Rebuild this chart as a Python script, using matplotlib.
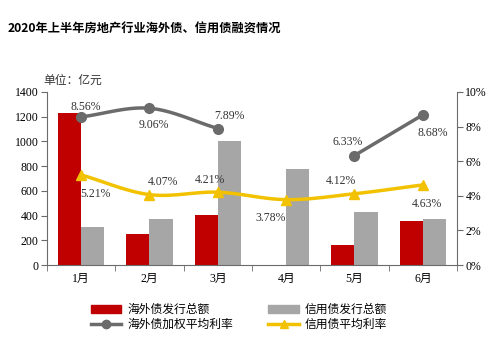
import numpy as np
import matplotlib.pyplot as plt
from matplotlib.lines import Line2D
from matplotlib.patches import Patch

plt.rcParams['font.family'] = ['Liberation Serif', 'Noto Sans CJK SC', 'DejaVu Sans']

months = ["1月", "2月", "3月", "4月", "5月", "6月"]
overseas_amt = [1230, 255, 405, 0, 165, 355]
credit_amt = [305, 370, 1000, 780, 430, 375]
overseas_rate = [8.56, 9.06, 7.89, np.nan, 6.33, 8.68]
credit_rate = [5.21, 4.07, 4.21, 3.78, 4.12, 4.63]

RED = "#C00000"
GRAY = "#A6A6A6"
DGRAY = "#6B6B6B"
YEL = "#F2C200"


def smooth(xs, ys, n=20):
    # catmull-rom curve through the points, just for drawing
    xs = np.asarray(xs, float)
    ys = np.asarray(ys, float)
    if len(xs) < 3:
        return xs, ys
    px = np.concatenate([[2 * xs[0] - xs[1]], xs, [2 * xs[-1] - xs[-2]]])
    py = np.concatenate([[2 * ys[0] - ys[1]], ys, [2 * ys[-1] - ys[-2]]])
    ox, oy = [], []
    t = np.linspace(0, 1, n)
    for i in range(1, len(px) - 2):
        for p, out in ((px, ox), (py, oy)):
            p0, p1, p2, p3 = p[i - 1], p[i], p[i + 1], p[i + 2]
            out.extend(0.5 * (2 * p1 + (-p0 + p2) * t
                              + (2 * p0 - 5 * p1 + 4 * p2 - p3) * t ** 2
                              + (-p0 + 3 * p1 - 3 * p2 + p3) * t ** 3))
    return np.array(ox), np.array(oy)


def draw_rate(ax, x, y, color, marker, ms):
    y = np.asarray(y, float)
    ok = ~np.isnan(y)
    # split into runs of valid points
    runs, cur = [], []
    for i in range(len(y)):
        if ok[i]:
            cur.append(i)
        elif cur:
            runs.append(cur)
            cur = []
    if cur:
        runs.append(cur)
    for r in runs:
        sx, sy = smooth(x[r], y[r])
        ax.plot(sx, sy, color=color, lw=2.5, zorder=4, solid_capstyle='round')
    ax.plot(x[ok], y[ok], ls='none', marker=marker, ms=ms, color=color, zorder=5)


fig = plt.figure(figsize=(5, 3.42), dpi=100)
ax = fig.add_axes([0.094, 0.225, 0.82, 0.506])
x = np.arange(len(months))
w = 0.34
ax.bar(x - w / 2, overseas_amt, w, color=RED, zorder=2)
ax.bar(x + w / 2, credit_amt, w, color=GRAY, zorder=2)
ax.set_xlim(-0.5, 5.5)
ax.set_ylim(0, 1400)
ax.set_yticks(range(0, 1401, 200))
ax.set_xticks(x)
ax.set_xticklabels(months, fontsize=8.5)
ax.set_xticks(np.arange(-0.5, 6, 1), minor=True)
ax.tick_params(axis='x', which='major', length=0, pad=6)
ax.tick_params(axis='x', which='minor', length=4, direction='out', color=DGRAY)
ax.tick_params(axis='y', labelsize=8.5, length=4, color=DGRAY, pad=2)
for s in ['top', 'right']:
    ax.spines[s].set_visible(False)
for s in ['left', 'bottom']:
    ax.spines[s].set_color(DGRAY)

ax2 = ax.twinx()
ax2.set_ylim(0, 10)
ax2.set_yticks(range(0, 11, 2))
ax2.set_yticklabels([f"{v}%" for v in range(0, 11, 2)])
ax2.tick_params(axis='y', labelsize=8.5, length=4, color=DGRAY, pad=2)
for s in ['top', 'left', 'bottom']:
    ax2.spines[s].set_visible(False)
ax2.spines['right'].set_color(DGRAY)

draw_rate(ax2, x, overseas_rate, DGRAY, 'o', 7)
draw_rate(ax2, x, credit_rate, YEL, '^', 7)

# label offsets (points)
o_off = [(3, 7), (3, -12), (8, 9), None, (-5, 10), (7, -13)]
c_off = [(10, -14), (10, 9), (-6, 9), (-11, -13), (-10, 9), (3, -14)]
for i in range(len(months)):
    if not np.isnan(overseas_rate[i]):
        ax2.annotate(f"{overseas_rate[i]:.2f}%", (x[i], overseas_rate[i]),
                     xytext=o_off[i], textcoords='offset points',
                     ha='center', va='center', fontsize=8.5, color='#333333', zorder=6)
    ax2.annotate(f"{credit_rate[i]:.2f}%", (x[i], credit_rate[i]),
                 xytext=c_off[i], textcoords='offset points',
                 ha='center', va='center', fontsize=8.5, color='#333333', zorder=6)

fig.text(0.016, 0.905, "2020年上半年房地产行业海外债、信用债融资情况",
         fontsize=8.8, fontweight='bold', family=['Noto Sans CJK SC', 'DejaVu Sans'])
fig.text(0.086, 0.755, "单位：亿元", fontsize=8.5, color='#333333',
         family=['Noto Sans CJK SC', 'DejaVu Sans'])

# ncol=2 fills by column, so order is red, dark line, gray, yellow
handles = [Patch(color=RED),
           Line2D([], [], color=DGRAY, lw=2.5, marker='o', ms=6),
           Patch(color=GRAY),
           Line2D([], [], color=YEL, lw=2.5, marker='^', ms=6)]
labels = ["海外债发行总额", "海外债加权平均利率", "信用债发行总额", "信用债平均利率"]
fig.legend(handles, labels, loc='upper left', bbox_to_anchor=(0.16, 0.145),
           ncol=2, frameon=False, columnspacing=3.0,
           handlelength=2.6, handleheight=0.6, labelspacing=0.15, handletextpad=0.5,
           prop={'family': ['Noto Sans CJK SC', 'DejaVu Sans'], 'size': 8.5})

fig.savefig("out.png", dpi=100)
